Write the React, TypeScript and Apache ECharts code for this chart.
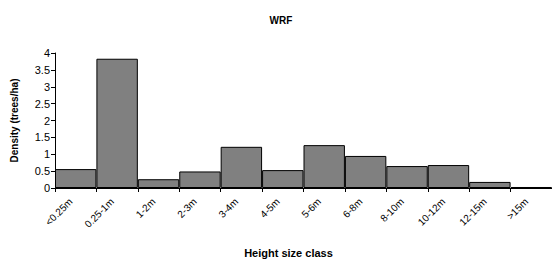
import React, { useEffect, useRef } from "react";
import * as echarts from "echarts";

const categories = ["<0.25m", "0.25-1m", "1-2m", "2-3m", "3-4m", "4-5m", "5-6m", "6-8m", "8-10m", "10-12m", "12-15m", ">15m"];
const density = [0.56, 3.83, 0.26, 0.49, 1.22, 0.53, 1.27, 0.95, 0.65, 0.68, 0.18, 0.03];
const yTicks = [0, 0.5, 1, 1.5, 2, 2.5, 3, 3.5, 4];

export default function App() {
  const ref = useRef<HTMLDivElement>(null);
  useEffect(() => {
    if (!ref.current) return;
    const chart = echarts.init(ref.current, null, { renderer: "svg" });
    const font = "'Liberation Sans', Arial, sans-serif";
    chart.setOption({
      animation: false,
      title: {
        text: "WRF",
        left: 276,
        textAlign: "center",
        top: 10,
        textStyle: { fontFamily: font, fontSize: 10, fontWeight: "bold", color: "#000" },
      },
      grid: { left: 55, right: 0, top: 53, bottom: 75, containLabel: false },
      xAxis: {
        type: "category",
        data: categories,
        boundaryGap: true,
        name: "Height size class",
        nameLocation: "middle",
        nameGap: 59,
        nameTextStyle: { fontFamily: font, fontSize: 11, fontWeight: "bold", color: "#000", padding: [0, 0, 0, -30] },
        axisLine: { lineStyle: { color: "#000", width: 1 } },
        axisTick: { show: true, alignWithLabel: false, length: 4, lineStyle: { color: "#000" } },
        axisLabel: { rotate: 45, interval: 0, fontFamily: font, fontSize: 10, color: "#000", margin: 7, padding: [0, 7, 0, 0] },
      },
      yAxis: {
        type: "value",
        min: 0,
        max: 4,
        interval: 0.5,
        name: "Density (trees/ha)",
        nameLocation: "middle",
        nameGap: 36,
        nameRotate: 90,
        nameTextStyle: { fontFamily: font, fontSize: 10, fontWeight: "bold", color: "#000" },
        axisLine: { show: true, lineStyle: { color: "#000", width: 1 } },
        axisTick: { show: true, length: 4, lineStyle: { color: "#000" } },
        splitLine: { show: false },
        axisLabel: {
          fontFamily: font,
          fontSize: 11,
          color: "#000",
          margin: 5,
          formatter: (v: number) => (yTicks.includes(v) ? String(v) : ""),
        },
      },
      series: [
        {
          type: "bar",
          data: density,
          barCategoryGap: "0%",
          itemStyle: { color: "#808080", borderColor: "#000", borderWidth: 1 },
        },
      ],
    });
    return () => chart.dispose();
  }, []);
  return <div ref={ref} style={{ width: 552, height: 263, position: "absolute", left: 0, top: 0 }} />;
}
